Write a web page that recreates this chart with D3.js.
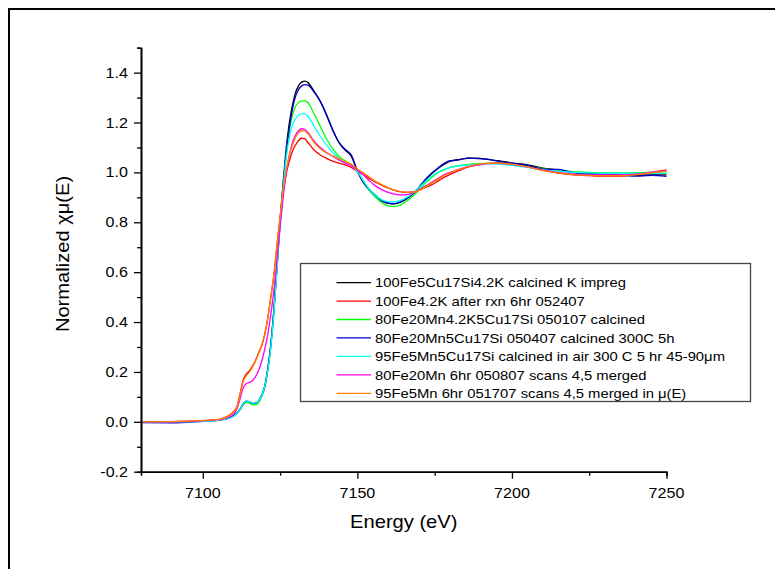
<!DOCTYPE html>
<html>
<head>
<meta charset="utf-8">
<script src="https://cdn.jsdelivr.net/npm/d3@7"></script>
<style>
  html, body { margin: 0; padding: 0; background: #fff; }
  svg { display: block; }
  text { font-family: "Liberation Sans", Arial, sans-serif; fill: #000; }
</style>
</head>
<body>
<svg id="chart" width="775" height="569"></svg>
<script>
// ---------------- data ----------------
const energy = [7080, 7090, 7100, 7104, 7106, 7108, 7110,
  7111, 7112, 7113, 7114, 7115, 7116, 7117, 7118, 7119, 7120, 7121, 7122, 7123, 7124, 7125, 7126, 7127, 7128, 7129, 7130, 7131, 7132, 7133, 7134,
  7136, 7138, 7140, 7142, 7144, 7146, 7148, 7150, 7152, 7154, 7156, 7158, 7160, 7162, 7164, 7166, 7168, 7170, 7172, 7174, 7176, 7178, 7180,
  7183, 7186, 7189, 7192, 7196,
  7200, 7205, 7210, 7215, 7220, 7225, 7230, 7235, 7240, 7245, 7250];

const fe100K_calcined = [0.0, 0.0, 0.003, 0.006, 0.009, 0.014, 0.025,
  0.035, 0.05, 0.07, 0.082, 0.08, 0.073, 0.074, 0.082, 0.105, 0.14, 0.21, 0.31, 0.45, 0.63, 0.81, 0.96, 1.10, 1.20, 1.27, 1.32, 1.348, 1.362, 1.366, 1.36,
  1.325, 1.285, 1.23, 1.17, 1.12, 1.09, 1.065, 1.005, 0.958, 0.928, 0.905, 0.886, 0.876, 0.874, 0.881, 0.895, 0.913, 0.94, 0.97, 0.995, 1.015, 1.032, 1.045,
  1.052, 1.056, 1.057, 1.052, 1.046,
  1.038, 1.03, 1.017, 1.01, 1.0, 0.996, 0.992, 0.99, 0.988, 0.99, 0.99];

const fe100K_afterRxn = [0.0, 0.001, 0.005, 0.008, 0.012, 0.022, 0.042,
  0.06, 0.11, 0.165, 0.19, 0.203, 0.222, 0.245, 0.275, 0.305, 0.35, 0.415, 0.5, 0.59, 0.71, 0.82, 0.92, 0.995, 1.045, 1.085, 1.11, 1.128, 1.137, 1.135, 1.12,
  1.09, 1.07, 1.056, 1.045, 1.037, 1.03, 1.02, 1.005, 0.99, 0.975, 0.96, 0.948, 0.937, 0.928, 0.922, 0.92, 0.922, 0.928, 0.94, 0.95, 0.965, 0.98, 0.992,
  1.008, 1.022, 1.03, 1.036, 1.038,
  1.035, 1.022, 1.008, 0.997, 0.99, 0.987, 0.985, 0.985, 0.99, 1.0, 1.01];

const fe80mn20K_calcined = [0.0, 0.0, 0.003, 0.006, 0.009, 0.013, 0.023,
  0.033, 0.048, 0.068, 0.078, 0.076, 0.069, 0.068, 0.076, 0.1, 0.135, 0.2, 0.3, 0.44, 0.62, 0.80, 0.95, 1.08, 1.17, 1.23, 1.265, 1.28, 1.287, 1.287, 1.28,
  1.235, 1.185, 1.135, 1.095, 1.065, 1.047, 1.03, 1.005, 0.96, 0.925, 0.898, 0.878, 0.866, 0.863, 0.87, 0.885, 0.905, 0.93, 0.957, 0.98, 0.998, 1.01, 1.02,
  1.027, 1.032, 1.035, 1.036, 1.036,
  1.033, 1.025, 1.015, 1.008, 1.003, 1.0, 0.998, 0.998, 0.999, 1.0, 1.002];

const fe80mn20_calcined300 = [-0.003, -0.004, 0.002, 0.005, 0.008, 0.013, 0.024,
  0.034, 0.05, 0.07, 0.083, 0.081, 0.074, 0.075, 0.083, 0.106, 0.14, 0.21, 0.31, 0.45, 0.62, 0.80, 0.95, 1.08, 1.18, 1.255, 1.305, 1.333, 1.347, 1.352, 1.35,
  1.322, 1.285, 1.232, 1.172, 1.122, 1.093, 1.07, 1.008, 0.96, 0.93, 0.906, 0.886, 0.877, 0.875, 0.882, 0.896, 0.915, 0.942, 0.972, 0.997, 1.017, 1.035, 1.047,
  1.05, 1.058, 1.055, 1.053, 1.044,
  1.036, 1.028, 1.013, 1.012, 0.998, 0.994, 0.99, 0.989, 0.985, 0.988, 0.984];

const fe95mn5_calcinedAir = [0.0, 0.0, 0.002, 0.005, 0.008, 0.012, 0.022,
  0.033, 0.05, 0.072, 0.083, 0.081, 0.075, 0.075, 0.083, 0.105, 0.14, 0.205, 0.3, 0.44, 0.61, 0.79, 0.94, 1.06, 1.14, 1.19, 1.215, 1.23, 1.236, 1.235, 1.225,
  1.185, 1.145, 1.11, 1.08, 1.057, 1.04, 1.028, 1.005, 0.965, 0.93, 0.905, 0.89, 0.883, 0.882, 0.888, 0.9, 0.917, 0.94, 0.963, 0.985, 1.0, 1.012, 1.02,
  1.026, 1.03, 1.032, 1.034, 1.033,
  1.028, 1.02, 1.01, 1.005, 1.0, 0.998, 0.997, 0.997, 0.997, 0.996, 0.996];

const fe80mn20_6hr = [0.0, 0.0, 0.004, 0.007, 0.01, 0.017, 0.032,
  0.05, 0.09, 0.135, 0.153, 0.158, 0.165, 0.18, 0.205, 0.24, 0.29, 0.35, 0.43, 0.53, 0.65, 0.78, 0.9, 1.0, 1.07, 1.12, 1.15, 1.168, 1.175, 1.172, 1.16,
  1.125, 1.1, 1.08, 1.065, 1.05, 1.037, 1.027, 1.01, 0.99, 0.965, 0.945, 0.93, 0.92, 0.913, 0.91, 0.911, 0.918, 0.93, 0.945, 0.96, 0.975, 0.99, 1.0,
  1.013, 1.024, 1.03, 1.035, 1.036,
  1.032, 1.022, 1.01, 1.0, 0.993, 0.99, 0.99, 0.99, 0.993, 1.0, 1.007];

const fe95mn5_6hr = [0.0, 0.001, 0.005, 0.008, 0.012, 0.021, 0.04,
  0.058, 0.105, 0.16, 0.183, 0.198, 0.218, 0.242, 0.272, 0.303, 0.348, 0.415, 0.5, 0.59, 0.71, 0.825, 0.93, 1.01, 1.07, 1.11, 1.14, 1.16, 1.167, 1.165, 1.155,
  1.12, 1.095, 1.078, 1.066, 1.055, 1.043, 1.033, 1.015, 0.998, 0.98, 0.963, 0.95, 0.938, 0.929, 0.923, 0.92, 0.921, 0.928, 0.942, 0.957, 0.972, 0.987, 0.998,
  1.012, 1.024, 1.032, 1.036, 1.037,
  1.033, 1.022, 1.008, 0.998, 0.991, 0.988, 0.987, 0.987, 0.99, 0.998, 1.005];

const seriesNames = [
  "100Fe5Cu17Si4.2K calcined K impreg",
  "100Fe4.2K after rxn 6hr 052407",
  "80Fe20Mn4.2K5Cu17Si 050107 calcined",
  "80Fe20Mn5Cu17Si 050407 calcined 300C 5h",
  "95Fe5Mn5Cu17Si calcined in air 300 C 5 hr 45-90\u03bcm",
  "80Fe20Mn 6hr 050807 scans 4,5 merged",
  "95Fe5Mn 6hr 051707 scans 4,5 merged in \u03bc(E)"
];
const seriesValues = [fe100K_calcined, fe100K_afterRxn, fe80mn20K_calcined, fe80mn20_calcined300,
  fe95mn5_calcinedAir, fe80mn20_6hr, fe95mn5_6hr];

const xMajorTicks = [7100, 7150, 7200, 7250];
const xMinorTicks = [7125, 7175, 7225];
const yMajorTicks = [-0.2, 0.0, 0.2, 0.4, 0.6, 0.8, 1.0, 1.2, 1.4];
const yTickLabels = ["-0.2", "0.0", "0.2", "0.4", "0.6", "0.8", "1.0", "1.2", "1.4"];
const yMinorTicks = [-0.1, 0.1, 0.3, 0.5, 0.7, 0.9, 1.1, 1.3, 1.5];

// ---------------- styles ----------------
const colors = ["#000000", "#ff0000", "#00ff00", "#0000cd", "#00ffff", "#ff00ff", "#ff8000"];

// ---------------- drawing ----------------
const svg = d3.select("#chart");
const plot = { left: 141, right: 666.5, top: 47.7, bottom: 471.7 };
const STRETCH = 1.15;

const x = d3.scaleLinear().domain([7080, 7250]).range([plot.left, plot.right]);
const y = d3.scaleLinear().domain([-0.2, 1.5]).range([plot.bottom, plot.top]);

// outer frame
svg.append("rect").attr("x", 9).attr("y", 9).attr("width", 800).attr("height", 600)
  .attr("fill", "none").attr("stroke", "#000").attr("stroke-width", 2);

// data lines
const line = d3.line().x(d => x(d[0])).y(d => y(d[1])).curve(d3.curveMonotoneX);
seriesValues.forEach((vals, i) => {
  const pts = energy.map((e, j) => [e, vals[j]]);
  svg.append("path").datum(pts).attr("d", line)
    .attr("fill", "none").attr("stroke", colors[i]).attr("stroke-width", 1.3)
    .attr("stroke-linejoin", "round");
});

// axes
function styleAxis(g) {
  g.select(".domain").attr("stroke", "#000").attr("stroke-width", 1.6);
  g.selectAll(".tick line").attr("stroke", "#000").attr("stroke-width", 1.3);
}
const xAxisMinor = d3.axisBottom(x).tickValues(xMinorTicks).tickSize(4).tickFormat("");
const xAxisMajor = d3.axisBottom(x).tickValues(xMajorTicks).tickSize(7).tickSizeOuter(0).tickFormat("");
const yAxisMinor = d3.axisLeft(y).tickValues(yMinorTicks).tickSize(4).tickFormat("");
const yAxisMajor = d3.axisLeft(y).tickValues(yMajorTicks).tickSize(7).tickSizeOuter(0).tickFormat("");

svg.append("g").attr("transform", `translate(0,${plot.bottom})`).call(xAxisMinor).call(styleAxis);
svg.append("g").attr("transform", `translate(0,${plot.bottom})`).call(xAxisMajor).call(styleAxis);
svg.append("g").attr("transform", `translate(${plot.left},0)`).call(yAxisMinor).call(styleAxis);
svg.append("g").attr("transform", `translate(${plot.left},0)`).call(yAxisMajor).call(styleAxis);

// tick labels (slightly wide glyphs as in the reference)
xMajorTicks.forEach(t => {
  svg.append("text").attr("transform", `translate(${x(t)},${plot.bottom + 26}) scale(${STRETCH},1)`)
    .attr("text-anchor", "middle").style("font-size", "14px").text(String(t));
});
yMajorTicks.forEach((t, i) => {
  svg.append("text").attr("transform", `translate(${plot.left - 13},${y(t) + 5}) scale(${STRETCH},1)`)
    .attr("text-anchor", "end").style("font-size", "14px").text(yTickLabels[i]);
});

// axis titles
svg.append("text").attr("transform", `translate(${(plot.left + plot.right) / 2},${528}) scale(${STRETCH},1)`)
  .attr("text-anchor", "middle").style("font-size", "17.5px").text("Energy (eV)");
svg.append("text").attr("transform", `translate(${69},${254}) rotate(-90) scale(${STRETCH},1)`)
  .attr("text-anchor", "middle").style("font-size", "17.5px").text("Normalized \u03c7\u03bc(E)");

// legend
const legend = svg.append("g");
legend.append("rect").attr("x", 300.5).attr("y", 263.5).attr("width", 450).attr("height", 138)
  .attr("fill", "#fff").attr("stroke", "#444").attr("stroke-width", 1.3);
seriesNames.forEach((name, i) => {
  const cy = 282.6 + i * 18.45;
  legend.append("line").attr("x1", 336.5).attr("x2", 371).attr("y1", cy).attr("y2", cy)
    .attr("stroke", colors[i]).attr("stroke-width", 1.3);
  legend.append("text").attr("transform", `translate(375,${cy + 4.7}) scale(1.14,1)`)
    .style("font-size", "13px").text(name);
});
</script>
</body>
</html>
